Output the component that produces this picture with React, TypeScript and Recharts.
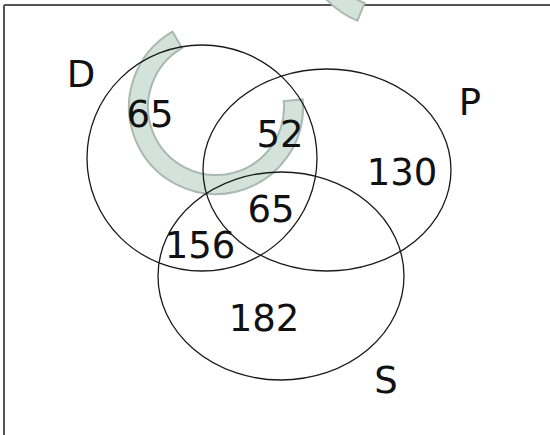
import { ReferenceLine, Scatter, ScatterChart, Sector, XAxis, YAxis } from 'recharts'

// sets and region counts of the Venn diagram
const SETS = ['D', 'P', 'S']
const REGIONS = ['D only', 'D∩P', 'P only', 'D∩P∩S', 'D∩S', 'S only']
const COUNTS = [65, 52, 130, 65, 156, 182]

// layout (pixels == axis units, the axes run 0..550 and 0..435)
const SET_CX = [202, 327, 281]
const SET_CY = [158, 170, 276]
const SET_RX = [115, 124, 123]
const SET_RY = [113, 101, 104]
const SET_LABEL_X = [81, 470, 386]
const SET_LABEL_Y = [87, 115, 393]
const REGION_X = [150, 280, 402, 271, 200, 264]
const REGION_Y = [127, 147, 185, 222, 258, 331]

// faint ring watermark behind the diagram
const MARK_X = [216, 390]
const MARK_Y = [107, -60]
const MARK_START = [120, 150]
const MARK_END = [365, 248]

const W = 550
const H = 435
const FONT = '"DejaVu Sans", sans-serif'

export default function App() {
  const ellipses = SETS.map((name, i) => ({
    name,
    x: SET_CX[i],
    y: SET_CY[i],
    rx: SET_RX[i],
    ry: SET_RY[i],
  }))
  const setLabels = SETS.map((name, i) => ({ text: name, x: SET_LABEL_X[i], y: SET_LABEL_Y[i] }))
  const regionLabels = REGIONS.map((region, i) => ({
    region,
    text: String(COUNTS[i]),
    x: REGION_X[i],
    y: REGION_Y[i],
  }))
  const marks = MARK_X.map((x, i) => ({ x, y: MARK_Y[i], start: MARK_START[i], end: MARK_END[i] }))

  const drawText = (p: any) => (
    <text
      x={p.cx}
      y={p.cy}
      textAnchor="middle"
      fontFamily={FONT}
      fontSize={37}
      fill="#111"
    >
      {p.payload.text}
    </text>
  )

  return (
    <div style={{ position: 'absolute', left: 0, top: 0, width: W, height: H, background: '#fff' }}>
      <ScatterChart width={W} height={H} margin={{ top: 0, right: 0, bottom: 0, left: 0 }}>
        <XAxis dataKey="x" type="number" domain={[0, W]} hide allowDataOverflow />
        <YAxis dataKey="y" type="number" domain={[0, H]} reversed hide allowDataOverflow />
        <Scatter
          data={marks}
          isAnimationActive={false}
          shape={(p: any) => (
            <Sector
              cx={p.cx}
              cy={p.cy}
              innerRadius={68}
              outerRadius={87}
              startAngle={p.payload.start}
              endAngle={p.payload.end}
              fill="#d3e3dc"
              stroke="#aab8b3"
              strokeWidth={2}
            />
          )}
        />
        <Scatter
          data={ellipses}
          isAnimationActive={false}
          shape={(p: any) => (
            <ellipse
              cx={p.cx}
              cy={p.cy}
              rx={p.payload.rx}
              ry={p.payload.ry}
              fill="none"
              stroke="#1a1a1a"
              strokeWidth={1.3}
            />
          )}
        />
        <Scatter data={regionLabels} isAnimationActive={false} shape={drawText} />
        <Scatter data={setLabels} isAnimationActive={false} shape={drawText} />
        <ReferenceLine
          segment={[{ x: 4, y: 5 }, { x: W, y: 5 }]}
          stroke="#555"
          strokeWidth={2}
        />
        <ReferenceLine
          segment={[{ x: 4, y: 5 }, { x: 4, y: H }]}
          stroke="#555"
          strokeWidth={2}
        />
      </ScatterChart>
    </div>
  )
}
